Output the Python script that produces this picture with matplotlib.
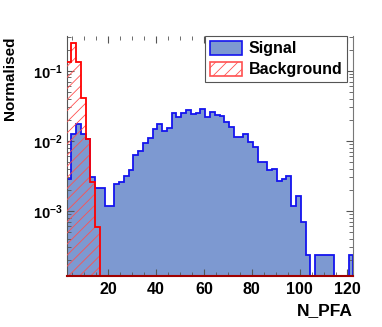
import numpy as np
import matplotlib
matplotlib.use("Agg")
import matplotlib.pyplot as plt
from matplotlib.patches import Patch
from matplotlib.ticker import LogLocator, MultipleLocator, NullFormatter, FixedLocator

plt.rcParams['font.family'] = ['Liberation Sans', 'DejaVu Sans']
plt.rcParams['mathtext.fontset'] = 'custom'
plt.rcParams['mathtext.bf'] = 'Liberation Sans:bold'
plt.rcParams['mathtext.rm'] = 'Liberation Sans'
plt.rcParams['hatch.linewidth'] = 0.6

# ---- data ----
bin_lo = 2.5
bin_width = 2.0
n_bins = 60
signal = [0.00284, 0.0123, 0.0173, 0.0125, 0.0105, 0.0030, 0.0021, 0.0021, 0.00118, 0.00118,
          0.0024, 0.0026, 0.0031, 0.0038, 0.0062, 0.0072, 0.0092, 0.0110, 0.0146, 0.0171,
          0.0138, 0.0150, 0.0251, 0.0220, 0.0251, 0.0275, 0.0243, 0.0245, 0.0286, 0.0220,
          0.0257, 0.0233, 0.0225, 0.0183, 0.0158, 0.0113, 0.0113, 0.0123, 0.0095, 0.0082,
          0.0049, 0.0050, 0.0038, 0.0039, 0.00266, 0.0028, 0.0031, 0.00118, 0.00162, 0.00070,
          0.000237, 0.0, 0.000237, 0.000237, 0.000237, 0.000237, 0.0, 0.0, 0.0, 0.000237]
background = [0.133, 0.246, 0.134, 0.041, 0.0105, 0.0026, 0.00059] + [0.0] * 53
xticks = [20, 40, 60, 80, 100, 120]
yticks = [1e-3, 1e-2, 1e-1]
ytick_labels = [r'$\mathbf{10^{-3}}$', r'$\mathbf{10^{-2}}$', r'$\mathbf{10^{-1}}$']
xlim = (2.87, 122.3)
ylim = (1.17e-4, 0.313)

edges = bin_lo + bin_width * np.arange(n_bins + 1)
tiny = 1e-9
sig = np.array(signal)
bkg = np.array(background)
sig_d = np.where(sig > 0, sig, tiny)
bkg_d = np.where(bkg > 0, bkg, tiny)

W, H = 382, 327
fig = plt.figure(figsize=(W / 100, H / 100), dpi=100)
fig.patch.set_facecolor('white')
ax = fig.add_axes([67.3 / W, 1 - 276 / H, (353 - 67.3) / W, (276 - 36) / H])
ax.set_yscale('log')

blue_fill = '#7d99d1'
blue_edge = '#1414ee'
red = '#ff0000'

ax.stairs(sig_d, edges, baseline=tiny, fill=True, color=blue_fill, zorder=1)
ax.stairs(sig_d, edges, baseline=tiny, fill=False, color=blue_edge, lw=1.3, zorder=2)
ax.stairs(bkg_d, edges, baseline=tiny, fill=True, facecolor='none', edgecolor='#ff5050',
          hatch='///', lw=0, zorder=3)
ax.stairs(bkg_d, edges, baseline=tiny, fill=False, color=red, lw=1.3, zorder=4)

ax.set_xlim(*xlim)
ax.set_ylim(*ylim)

ax.xaxis.set_major_locator(FixedLocator(xticks))
ax.set_xticklabels([str(t) for t in xticks], fontsize=11.5, fontweight='bold')
ax.xaxis.set_minor_locator(MultipleLocator(5))
ax.yaxis.set_major_locator(FixedLocator(yticks))
ax.set_yticklabels(ytick_labels, fontsize=10.5)
ax.yaxis.set_minor_locator(LogLocator(base=10, subs=np.arange(2, 10)))
ax.yaxis.set_minor_formatter(NullFormatter())

ax.tick_params(axis='both', which='both', direction='in', top=True, right=True,
               colors='#555555', labelcolor='black')
ax.tick_params(axis='x', which='major', length=5, pad=4)
ax.tick_params(axis='x', which='minor', length=3)
ax.tick_params(axis='y', which='major', length=5, pad=3)
ax.tick_params(axis='y', which='minor', length=3)

ax.spines['top'].set_visible(False)
ax.spines['right'].set_color('#777777')
ax.spines['left'].set_color('#555555')
ax.spines['bottom'].set_color('#a00000')
ax.spines['bottom'].set_linewidth(1.5)
ax.spines['bottom'].set_zorder(5)

fig.text(10.3 / W, 1 - 36.5 / H, 'Normalised', rotation=90, ha='center', va='top',
         fontsize=11, fontweight='bold')
fig.text(353 / W, 1 - 311 / H, 'N_PFA', ha='right', va='center',
         fontsize=12.5, fontweight='bold')

handles = [Patch(facecolor=blue_fill, edgecolor=blue_edge, lw=1.2),
           Patch(facecolor='white', edgecolor='#ff5050', hatch='///', lw=1.2)]
leg = ax.legend(handles, ['Signal', 'Background'], loc='upper left',
                bbox_to_anchor=(205 / W, 1 - 36 / H), bbox_transform=fig.transFigure,
                prop={'weight': 'bold', 'size': 11.5}, handlelength=2.0, handleheight=0.95,
                handletextpad=0.45, labelspacing=0.35, borderpad=0.3, borderaxespad=0,
                fancybox=False, framealpha=1, edgecolor='#555555')
leg.get_frame().set_linewidth(0.8)
leg.set_zorder(10)

fig.savefig('out.png', dpi=100, facecolor='white')
